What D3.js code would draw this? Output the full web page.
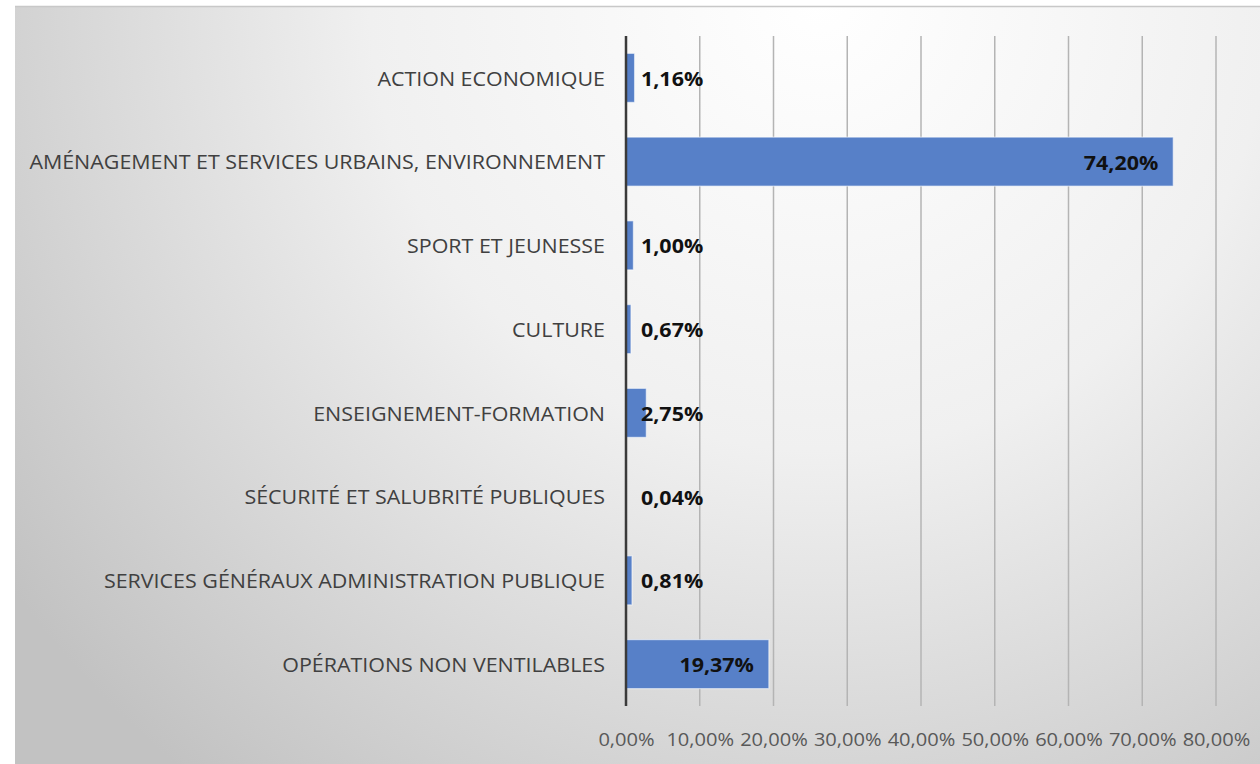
<!DOCTYPE html>
<html><head><meta charset="utf-8">
<script src="https://cdn.jsdelivr.net/npm/d3@7"></script>
<style>body{margin:0;background:#fff}svg{display:block}</style>
</head><body>
<svg id="c" width="1260" height="764"></svg>
<script>
const categories = [
  "ACTION ECONOMIQUE",
  "AMÉNAGEMENT ET SERVICES URBAINS, ENVIRONNEMENT",
  "SPORT ET JEUNESSE",
  "CULTURE",
  "ENSEIGNEMENT-FORMATION",
  "SÉCURITÉ ET SALUBRITÉ PUBLIQUES",
  "SERVICES GÉNÉRAUX ADMINISTRATION PUBLIQUE",
  "OPÉRATIONS NON VENTILABLES"
];
const values = [1.16, 74.20, 1.00, 0.67, 2.75, 0.04, 0.81, 19.37];
const ticks = [0, 10, 20, 30, 40, 50, 60, 70, 80];

const FONT = "'Open Sans', Lato, sans-serif";
const SX = 1.1;
const fmt = v => v.toFixed(2).replace(".", ",") + "%";
const svg = d3.select("#c");
const defs = svg.append("defs");
const g1 = defs.append("radialGradient").attr("id","bg")
  .attr("gradientUnits","userSpaceOnUse").attr("cx",820).attr("cy",0).attr("r",1000)
  .attr("fx",820).attr("fy",0);
g1.append("stop").attr("offset","0").attr("stop-color","#ffffff");
g1.append("stop").attr("offset","0.45").attr("stop-color","#f0f0f0");
g1.append("stop").attr("offset","1").attr("stop-color","#c2c2c2");

svg.append("rect").attr("x",15).attr("y",6).attr("width",1245).attr("height",758)
  .attr("fill","url(#bg)");
svg.append("line").attr("x1",15).attr("x2",1260).attr("y1",6.5).attr("y2",6.5)
  .attr("stroke","#c8c8c8").attr("stroke-width",1.5);

const x = d3.scaleLinear().domain([0,80]).range([626,1216]);
const y = d3.scaleBand().domain(categories).range([36,706]).paddingInner(0.415).paddingOuter(0.2075);

// gridlines
svg.append("g").selectAll("line").data(ticks.slice(1)).join("line")
  .attr("x1",d=>x(d)).attr("x2",d=>x(d)).attr("y1",36).attr("y2",706)
  .attr("stroke","#b4b4b4").attr("stroke-width",1.5);

// bars
svg.append("g").selectAll("rect").data(values).join("rect")
  .attr("x",x(0)).attr("y",(d,i)=>y(categories[i]))
  .attr("width",d=>x(d)-x(0)).attr("height",y.bandwidth())
  .attr("fill","#5780c8").attr("stroke","rgba(255,255,255,0.55)").attr("stroke-width",1.2);

// zero axis
svg.append("line").attr("x1",x(0)).attr("x2",x(0)).attr("y1",36).attr("y2",706)
  .attr("stroke","#3a3a3a").attr("stroke-width",2.5);

// x axis tick labels
const xa = svg.append("g").attr("transform","translate(0,706)")
  .call(d3.axisBottom(x).tickValues(ticks).tickSize(0).tickPadding(0).tickFormat(d=>fmt(d)));
xa.select(".domain").remove();
xa.selectAll("text").attr("font-family",FONT).attr("font-size",18.6)
  .attr("fill","#595959").attr("y",0).attr("dy","0.35em")
  .attr("transform",`translate(0,33) scale(1.08,1)`);

// category labels
const ya = svg.append("g").attr("transform","translate(605,0)")
  .call(d3.axisLeft(y).tickSize(0).tickPadding(0));
ya.select(".domain").remove();
ya.selectAll("text").attr("font-family",FONT).attr("font-size",19.5)
  .attr("fill","#404040").attr("x",0).attr("dy","0.35em")
  .attr("transform",`translate(0,1) scale(${SX},1)`);

// value labels
svg.append("g").selectAll("g").data(values).join("g")
  .attr("transform",(d,i)=>`translate(0,${y(categories[i])+y.bandwidth()/2+1})`)
  .append("text").attr("dy","0.36em")
  .attr("font-family",FONT).attr("font-weight","bold").attr("font-size",19.5)
  .attr("fill","#111")
  .text(d=>fmt(d))
  .each(function(d){
    const t = d3.select(this);
    const w = this.getComputedTextLength()*SX;
    const end = x(d) - 15;
    if (end - w > x(0) + 15) t.attr("text-anchor","end").attr("transform",`translate(${end},0) scale(${SX},1)`);
    else t.attr("text-anchor","start").attr("transform",`translate(${x(0)+15},0) scale(${SX},1)`);
  });
</script>
</body></html>
